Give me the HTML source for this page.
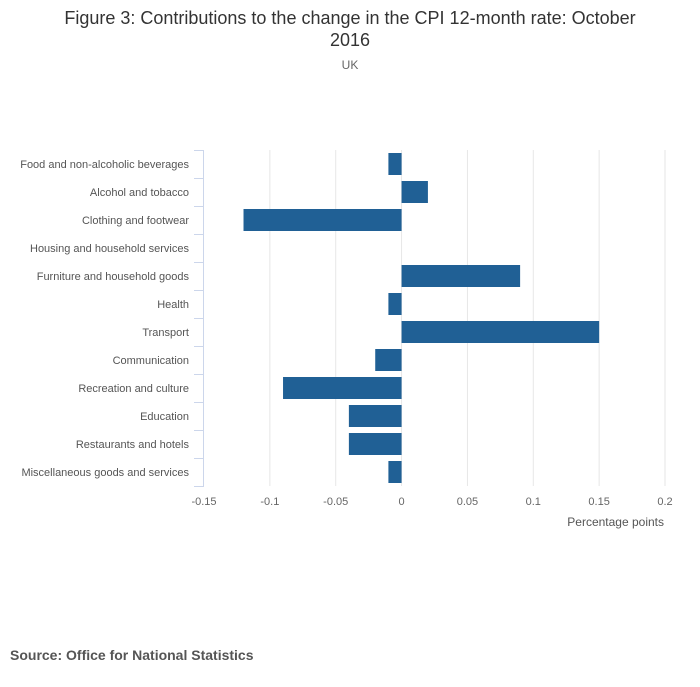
<!DOCTYPE html>
<html><head><meta charset="utf-8"><style>
body{margin:0;background:#fff;font-family:"Liberation Sans",sans-serif;}
svg text{font-family:"Liberation Sans",sans-serif;}
</style></head><body>
<svg width="700" height="682">
<text x="350" y="24" text-anchor="middle" font-size="18" fill="#333">Figure 3: Contributions to the change in the CPI 12-month rate: October</text>
<text x="350" y="46" text-anchor="middle" font-size="18" fill="#333">2016</text>
<text x="350" y="69" text-anchor="middle" font-size="12" fill="#666">UK</text>
<g id="grid"></g><g id="bars"></g><g id="yaxis"></g><g id="xticks"></g>
<text x="664" y="526" text-anchor="end" font-size="12" fill="#555">Percentage points</text>
<text x="10" y="660" font-size="14" font-weight="bold" fill="#555">Source: Office for National Statistics</text>
</svg>
<script>
const categories=["Food and non-alcoholic beverages","Alcohol and tobacco","Clothing and footwear","Housing and household services","Furniture and household goods","Health","Transport","Communication","Recreation and culture","Education","Restaurants and hotels","Miscellaneous goods and services"];
const values=[-0.01,0.02,-0.12,0,0.09,-0.01,0.15,-0.02,-0.09,-0.04,-0.04,-0.01];
const xTicks=[-0.15,-0.1,-0.05,0,0.05,0.1,0.15,0.2];
const xTickLabels=["-0.15","-0.1","-0.05","0","0.05","0.1","0.15","0.2"];
const NS="http://www.w3.org/2000/svg";
const x0=204,x1=665,dmin=-0.15,dmax=0.2,plotTop=150,band=28;
const xs=v=>x0+(v-dmin)/(dmax-dmin)*(x1-x0);
const ys=i=>plotTop+i*band;
function mk(tag,attrs,parent){const e=document.createElementNS(NS,tag);for(const k in attrs)e.setAttribute(k,attrs[k]);document.getElementById(parent).appendChild(e);return e;}
xTicks.forEach((t,i)=>{
 if(i>0){const g=mk('line',{x1:xs(t),x2:xs(t),y1:plotTop,y2:plotTop+band*categories.length,stroke:'#e6e6e6'},'grid');
 
 }
 const l=mk('text',{x:xs(t),y:505,'text-anchor':'middle','font-size':11,fill:'#666'},'xticks');
 l.textContent=xTickLabels[i];
 
 
});
values.forEach((v,i)=>{
 const a=xs(Math.min(0,v)),b=xs(Math.max(0,v));
 const r=mk('rect',{x:a,y:ys(i)+3,width:b-a,height:22,fill:'#206095'},'bars');
 
 
});
const ax=mk('line',{x1:203.5,x2:203.5,y1:plotTop,y2:plotTop+band*categories.length,stroke:'#ccd6eb'},'yaxis');


for(let i=0;i<=categories.length;i++){
 const t=mk('line',{x1:194,x2:204,y1:ys(i)+0.5,y2:ys(i)+0.5,stroke:'#ccd6eb'},'yaxis');
 
 
}
categories.forEach((c,i)=>{
 const l=mk('text',{x:189,y:ys(i)+18,'text-anchor':'end','font-size':11,fill:'#555'},'yaxis');
 l.textContent=c;
 
 
});
</script>
</body></html>
